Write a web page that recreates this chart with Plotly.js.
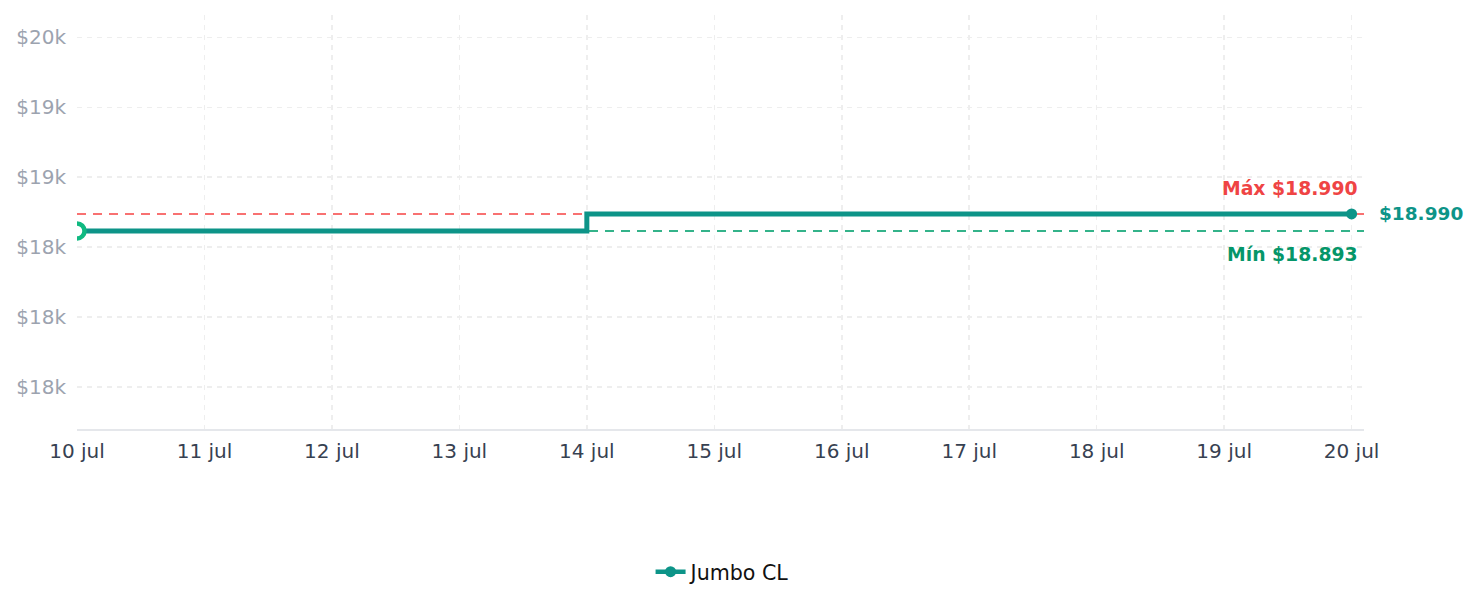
<!DOCTYPE html>
<html>
<head>
<meta charset="utf-8">
<script src="https://cdn.plot.ly/plotly-3.0.1.min.js"></script>
<style>html,body{margin:0;padding:0;background:#fff;}#chart{width:1479px;height:607px;}</style>
</head>
<body>
<div id="chart"></div>
<script>
// ---- data ----
const dates = ['2024-07-10','2024-07-11','2024-07-12','2024-07-13','2024-07-14','2024-07-15','2024-07-16','2024-07-17','2024-07-18','2024-07-19','2024-07-20'];
const prices = [18893,18893,18893,18893,18990,18990,18990,18990,18990,18990,18990];
const seriesName = 'Jumbo CL';
const xTickVals = ['2024-07-10','2024-07-11','2024-07-12','2024-07-13','2024-07-14','2024-07-15','2024-07-16','2024-07-17','2024-07-18','2024-07-19','2024-07-20'];
const xTickText = ['10 jul','11 jul','12 jul','13 jul','14 jul','15 jul','16 jul','17 jul','18 jul','19 jul','20 jul'];
const yTickVals = [18000,18400,18800,19200,19600,20000];
const yTickText = ['$18k','$18k','$18k','$19k','$19k','$20k'];
const maxLabel = 'Máx $18.990';
const minLabel = 'Mín $18.893';
const lastLabel = '$18.990';

const maxP = Math.max(...prices);
const minP = Math.min(...prices);
const n = dates.length;

const TEAL = '#0d9488';
const data = [
  {x: dates, y: prices, type:'scatter', mode:'lines', line:{shape:'hv', color:TEAL, width:5}, showlegend:false, hoverinfo:'skip'},
  {x: [dates[0]], y: [prices[0]], type:'scatter', mode:'markers', marker:{size:15, color:'#ffffff', line:{color:'#10b981', width:4.5}}, showlegend:false, hoverinfo:'skip'},
  {x: [dates[n-1]], y: [prices[n-1]], type:'scatter', mode:'lines+markers', name: seriesName, line:{color:TEAL, width:4.5}, marker:{size:11, color:TEAL}, hoverinfo:'skip'}
];

const layout = {
  width:1479, height:607,
  margin:{l:77, r:115, t:15, b:178},
  paper_bgcolor:'#ffffff', plot_bgcolor:'#ffffff',
  font:{family:'DejaVu Sans', size:20, color:'#374151'},
  xaxis:{
    type:'date', range:['2024-07-10','2024-07-20 02:20'],
    tickvals:xTickVals, ticktext:xTickText, ticks:'', ticklabelstandoff:3,
    tickfont:{size:20, color:'#374151'},
    showgrid:true, gridcolor:'#eeeeee', gridwidth:1.5, griddash:'5px,5px',
    showline:true, linecolor:'#e5e7eb', linewidth:2, zeroline:false, fixedrange:true
  },
  yaxis:{
    range:[17760,20128], tickvals:yTickVals, ticktext:yTickText, ticks:'', ticklabelstandoff:10,
    tickfont:{size:20, color:'#9ca3af'},
    showgrid:true, gridcolor:'#eeeeee', gridwidth:1.5, griddash:'5px,5px',
    showline:false, zeroline:false, fixedrange:true
  },
  shapes:[
    {type:'line', xref:'paper', x0:0, x1:1, yref:'y', y0:maxP, y1:maxP, layer:'below', line:{color:'#f87171', width:2, dash:'9px,7px'}},
    {type:'line', xref:'paper', x0:0, x1:1, yref:'y', y0:minP, y1:minP, layer:'below', line:{color:'#34b38a', width:2, dash:'9px,7px'}}
  ],
  annotations:[
    {xref:'x', x:dates[n-1], yref:'y', y:maxP, text:'<b>'+maxLabel+'</b>', showarrow:false, xanchor:'right', yanchor:'middle', xshift:8, yshift:25, font:{size:18.8, color:'#ef4444'}},
    {xref:'x', x:dates[n-1], yref:'y', y:minP, text:'<b>'+minLabel+'</b>', showarrow:false, xanchor:'right', yanchor:'middle', xshift:8, yshift:-24, font:{size:18.8, color:'#059669'}},
    {xref:'x', x:dates[n-1], yref:'y', y:prices[n-1], text:'<b>'+lastLabel+'</b>', showarrow:false, xanchor:'left', yanchor:'middle', xshift:25, yshift:0, font:{size:18.5, color:TEAL}}
  ],
  legend:{orientation:'h', x:0.502, xanchor:'center', y:-0.345, yanchor:'middle', font:{size:20.6, color:'#111111'}},
  showlegend:true
};

Plotly.newPlot('chart', data, layout, {displayModeBar:false, staticPlot:true});
</script>
</body>
</html>
